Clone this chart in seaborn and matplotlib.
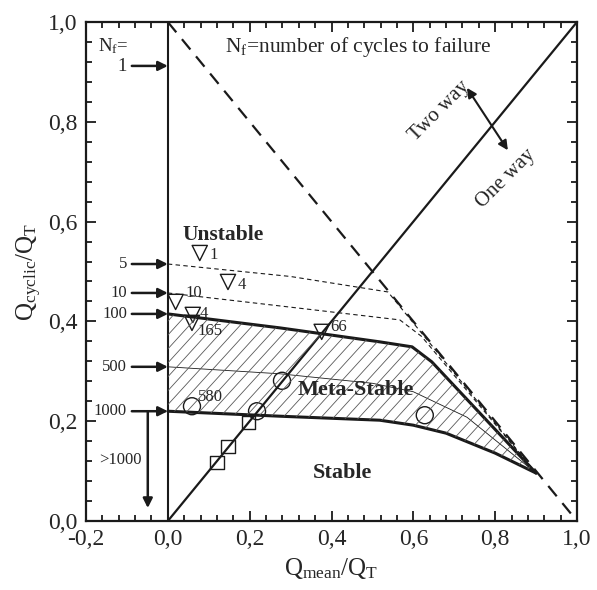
import numpy as np
import seaborn as sns
import matplotlib
matplotlib.use("Agg")
import matplotlib.pyplot as plt

# reference lines
diag_x = [0.0, 1.0]
diag_y = [0.0, 1.0]
axis0_x = [0.0, 0.0]
axis0_y = [0.0, 1.0]
fail_x = [0.0, 1.0]
fail_y = [1.0, 0.0]

# contour lines of number of cycles to failure
n5_x = [0.0, 0.30, 0.538, 0.90]
n5_y = [0.515, 0.490, 0.459, 0.096]
n10_x = [0.0, 0.274, 0.567, 0.62, 0.90]
n10_y = [0.457, 0.431, 0.403, 0.370, 0.096]
n100_x = [0.0, 0.274, 0.518, 0.597, 0.645, 0.90]
n100_y = [0.415, 0.387, 0.359, 0.349, 0.319, 0.096]
n500_x = [0.0, 0.274, 0.50, 0.60, 0.731, 0.90]
n500_y = [0.309, 0.295, 0.276, 0.259, 0.208, 0.096]
n1000_x = [0.0, 0.274, 0.518, 0.60, 0.68, 0.80, 0.90]
n1000_y = [0.220, 0.210, 0.202, 0.192, 0.176, 0.136, 0.096]

# arrows at the left side
arrow_labels = ["5", "10", "100", "500", "1000"]
arrow_levels = [0.515, 0.457, 0.415, 0.309, 0.220]

# test points
tri_x = [0.078, 0.147, 0.019, 0.061, 0.059, 0.376]
tri_y = [0.537, 0.479, 0.439, 0.413, 0.397, 0.379]
tri_lbl = ["1", "4", "10", "4", "165", "66"]
circ_x = [0.059, 0.218, 0.279, 0.628]
circ_y = [0.230, 0.220, 0.281, 0.212]
sq_x = [0.198, 0.147, 0.120]
sq_y = [0.198, 0.150, 0.118]

sns.set_theme(style="ticks")
plt.rcParams["font.family"] = ["Liberation Serif", "DejaVu Serif"]
plt.rcParams["mathtext.default"] = "regular"

fig = plt.figure(figsize=(5.97, 5.90), dpi=100)
ax = fig.add_axes([86 / 597, 69 / 590, 491 / 597, 499 / 590])

def curve(x, y, **kw):
    sns.lineplot(x=x, y=y, sort=False, estimator=None, color="k", ax=ax, **kw)

curve(axis0_x, axis0_y, lw=1.5)
curve(diag_x, diag_y, lw=1.6)
curve(fail_x, fail_y, lw=1.6, linestyle=(0, (6, 4)))

curve(n5_x, n5_y, lw=0.8, linestyle=(0, (4, 3)))
curve(n10_x, n10_y, lw=0.8, linestyle=(0, (4, 3)))
curve(n100_x, n100_y, lw=2.2)
curve(n500_x, n500_y, lw=0.6)
curve(n1000_x, n1000_y, lw=2.2)

# hatched meta-stable zone
poly = ax.fill(n100_x + n1000_x[::-1], n100_y + n1000_y[::-1],
               facecolor="none", edgecolor="none")[0]
for c in np.arange(-0.6, 1.0, 0.031):
    hl, = ax.plot([c, c + 0.6], [0, 0.6 * 0.9], color="0.35", lw=0.6)
    hl.set_clip_path(poly)

# markers
sns.scatterplot(x=tri_x, y=tri_y, marker="v", s=120, fc="none", ec="k", linewidth=1, ax=ax)
sns.scatterplot(x=circ_x, y=circ_y, marker="o", s=150, fc="none", ec="k", linewidth=1, ax=ax)
sns.scatterplot(x=sq_x, y=sq_y, marker="s", s=90, fc="none", ec="k", linewidth=1, ax=ax)

lbl_pos = [(0.103, 0.533), (0.171, 0.473), (0.042, 0.457), (0.078, 0.415),
           (0.073, 0.381), (0.396, 0.389)]
for (lx, ly), t in zip(lbl_pos, tri_lbl):
    ax.text(lx, ly, t, fontsize=12, ha="left", va="center")
ax.text(0.073, 0.249, "580", fontsize=12, ha="left", va="center")

# level arrows
arw = dict(arrowstyle="-|>", color="k", lw=1.8, mutation_scale=14, shrinkA=0, shrinkB=0)
for t, lv in zip(arrow_labels, arrow_levels):
    ax.annotate("", xy=(0, lv), xytext=(-0.088, lv), arrowprops=arw)
    ax.text(-0.1, lv, t, fontsize=12, ha="right", va="center")
ax.annotate("", xy=(0, 0.912), xytext=(-0.088, 0.912), arrowprops=arw)
ax.text(-0.171, 0.952, "$N_f$=", fontsize=13.5, ha="left", va="center")
ax.text(-0.112, 0.91, "1", fontsize=13.5, ha="center", va="center")
ax.annotate("", xy=(-0.049, 0.026), xytext=(-0.049, 0.22), arrowprops=arw)
ax.text(-0.115, 0.122, ">1000", fontsize=12, ha="center", va="center")

# two way / one way
ax.annotate("", xy=(0.731, 0.868), xytext=(0.831, 0.743),
            arrowprops=dict(arrowstyle="<|-|>", color="k", lw=1.5, mutation_scale=14,
                            shrinkA=0, shrinkB=0))
ax.text(0.663, 0.822, "Two way", fontsize=15, rotation=45, ha="center", va="center")
ax.text(0.826, 0.687, "One way", fontsize=15, rotation=45, ha="center", va="center")

ax.text(0.139, 0.95, "$N_f$=number of cycles to failure", fontsize=15.5, ha="left", va="center")
ax.text(0.134, 0.573, "Unstable", fontsize=15.5, fontweight="bold", ha="center", va="center")
ax.text(0.459, 0.262, "Meta-Stable", fontsize=16, fontweight="bold", ha="center", va="center")
ax.text(0.428, 0.096, "Stable", fontsize=16, fontweight="bold", ha="center", va="center")

ax.set_xlim(-0.2, 1.0)
ax.set_ylim(0.0, 1.0)
ax.set_xticks(np.arange(-0.2, 1.01, 0.2))
ax.set_yticks(np.arange(0.0, 1.01, 0.2))
ax.set_xticks(np.arange(-0.2, 1.01, 0.04), minor=True)
ax.set_yticks(np.arange(0.0, 1.01, 0.04), minor=True)
ax.xaxis.set_major_formatter(lambda v, p: f"{v:.1f}".replace(".", ","))
ax.yaxis.set_major_formatter(lambda v, p: f"{v:.1f}".replace(".", ","))
ax.tick_params(which="both", direction="in", top=True, right=True, labelsize=17, width=1.3, color="k")
ax.tick_params(which="major", length=7, pad=6)
ax.tick_params(which="minor", length=4)
for s in ax.spines.values():
    s.set_linewidth(1.6)
    s.set_color("k")

ax.set_xlabel("$Q_{mean}/Q_T$", fontsize=18)
ax.set_ylabel("$Q_{cyclic}/Q_T$", fontsize=18)
ax.xaxis.set_label_coords(0.5, -0.07)
ax.yaxis.set_label_coords(-0.085, 0.5)

fig.savefig("out.png", dpi=100)
